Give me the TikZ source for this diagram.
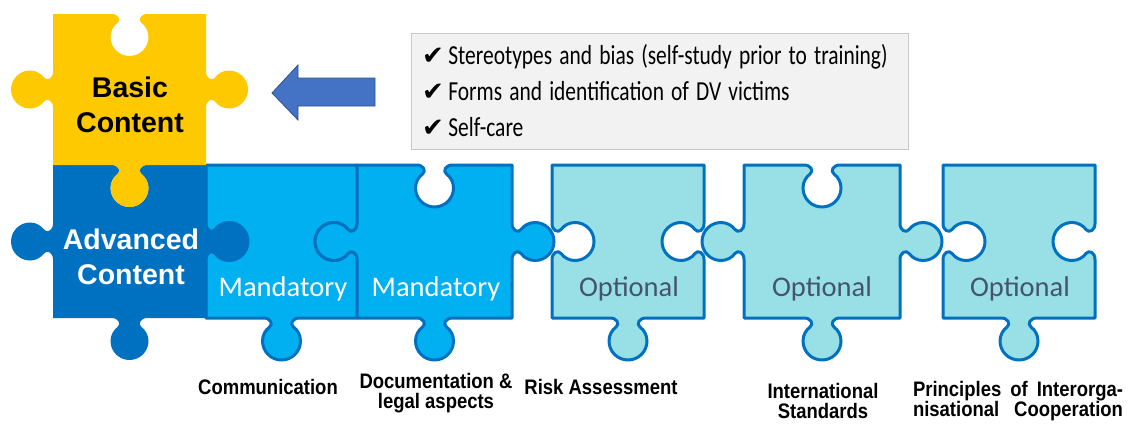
\documentclass[tikz,border=0pt]{standalone}
\usepackage{graphicx}
\usepackage{fontspec}
\setmainfont{Carlito}
\newfontfamily\headfont{Liberation Sans}
\newfontfamily\capfont[FakeStretch=0.88]{Liberation Sans}
\newfontfamily\tickfont{DejaVu Sans}

\definecolor{basicyellow}{RGB}{255,201,0}
\definecolor{advblue}{RGB}{0,112,192}
\definecolor{mandblue}{RGB}{0,176,240}
\definecolor{optcyan}{RGB}{153,223,230}
\definecolor{opttext}{RGB}{68,84,106}
\definecolor{arrowblue}{RGB}{68,114,196}
\definecolor{arrowline}{RGB}{47,82,143}
\definecolor{listgray}{RGB}{242,242,242}
\definecolor{listline}{RGB}{200,200,200}

% one knob on a piece edge: mid x, mid y, rotation, 1 = tab / -1 = blank
\newcommand{\knob}[4]{%
  {[shift={(#1,#2)},rotate=#3,yscale=#4]
    -- (-18,0) .. controls (-11,0) and (-8,-6) .. (-12,-9)
    .. controls (-16,-12) and (-19,-17) .. (-19,-23)
    .. controls (-19,-33.5) and (-10.5,-42) .. (0,-42)
    .. controls (10.5,-42) and (19,-33.5) .. (19,-23)
    .. controls (19,-17) and (16,-12) .. (12,-9)
    .. controls (8,-6) and (11,0) .. (18,0)}}
% ticked line of the topic list
\newcommand{\checkline}[1]{{\tickfont\fontsize{26}{36}\selectfont ✔}\,\scalebox{0.78}[1]{#1}}

\begin{document}
\begin{tikzpicture}[
  x=1pt, y=-1pt,
  piece/.style={line width=3pt, draw=advblue, line join=round},
  bold/.style={font=\headfont\bfseries\fontsize{28.5}{35}\selectfont, align=center},
  tag/.style={font=\fontsize{28.5}{30}\selectfont},
  caption/.style={font=\capfont\bfseries\fontsize{21}{20}\selectfont, align=center, inner sep=0pt},
  listbox/.style={draw=listline, fill=listgray, line width=1pt, minimum width=497pt,
    minimum height=116pt, inner xsep=11pt, text width=475pt, align=left,
    font=\fontsize{27.5}{36}\selectfont}
]
  \useasboundingbox (0,0) rectangle (1134,423);

  % Mandatory pieces (first one lies under its neighbours' tabs)
  \path[piece, fill=mandblue] (206,165) -- (357,165) \knob{357}{241.5}{-90}{-1}
    -- (357,318) \knob{281.5}{318}{180}{1} -- (206,318) \knob{206}{241.5}{90}{-1} -- cycle;
  \path[piece, fill=mandblue] (357,165) \knob{434.5}{165}{0}{-1} -- (512,165) \knob{512}{241.5}{-90}{1}
    -- (512,318) \knob{434.5}{318}{180}{1} -- (357,318) \knob{357}{241.5}{90}{1} -- cycle;

  % Advanced and basic content
  \fill[advblue] (53,165) \knob{129.5}{165}{0}{-1} -- (206,165) \knob{206}{241.5}{-90}{1}
    -- (206,318) \knob{129.5}{318}{180}{1} -- (53,318) \knob{53}{241.5}{90}{1} -- cycle;
  \fill[basicyellow] (53,14) \knob{129.5}{14}{0}{-1} -- (206,14) \knob{206}{89.5}{-90}{1}
    -- (206,165) \knob{129.5}{165}{180}{1} -- (53,165) \knob{53}{89.5}{90}{1} -- cycle;

  % Optional pieces
  \path[piece, fill=optcyan] (552,165) -- (704,165) \knob{704}{241.5}{-90}{-1}
    -- (704,318) \knob{628}{318}{180}{1} -- (552,318) \knob{552}{241.5}{90}{-1} -- cycle;
  \path[piece, fill=optcyan] (744,165) \knob{822}{165}{0}{-1} -- (900,165) \knob{900}{241.5}{-90}{1}
    -- (900,318) \knob{822}{318}{180}{1} -- (744,318) \knob{744}{241.5}{90}{1} -- cycle;
  \path[piece, fill=optcyan] (943,165) -- (1095,165) \knob{1095}{241.5}{-90}{-1}
    -- (1095,318) \knob{1019}{318}{180}{1} -- (943,318) \knob{943}{241.5}{90}{-1} -- cycle;

  % Block arrow to the basic piece
  \filldraw[fill=arrowblue, draw=arrowline, line width=0.8pt]
    (375,78) -- (298,78) -- (298,65) -- (272,93) -- (298,120) -- (298,106) -- (375,106) -- cycle;

  % Texts on the pieces
  \node[bold] (basic) at (130,105) {Basic\\Content};
  \node[bold, text=white] (advanced) at (131,257) {Advanced\\Content};
  \node[tag, text=white] (mand1) at (283,289) {Mandatory};
  \node[tag, text=white] (mand2) at (436,289) {Mandatory};
  \node[tag, text=opttext] (opt1) at (629,289) {Optional};
  \node[tag, text=opttext] (opt2) at (822,289) {Optional};
  \node[tag, text=opttext] (opt3) at (1020,289) {Optional};

  % Topics of the basic content
  \node[listbox] (topics) at (659.5,91)
    {\checkline{Stereotypes and bias (self-study prior to training)}\\
     \checkline{Forms and identification of DV victims}\\
     \checkline{Self-care}};

  % Module names
  \node[caption] (comm) at (268,387) {Communication};
  \node[caption] (docu) at (436,393) {Documentation \&\\legal aspects};
  \node[caption] (risk) at (601,387) {Risk Assessment};
  \node[caption] (intl) at (823,401) {International\\Standards};
  \node[caption] (coop) at (1018,401)
    {\makebox[210pt][s]{Principles of Interorga-}\\\makebox[210pt][s]{nisational Cooperation}};
\end{tikzpicture}
\end{document}
